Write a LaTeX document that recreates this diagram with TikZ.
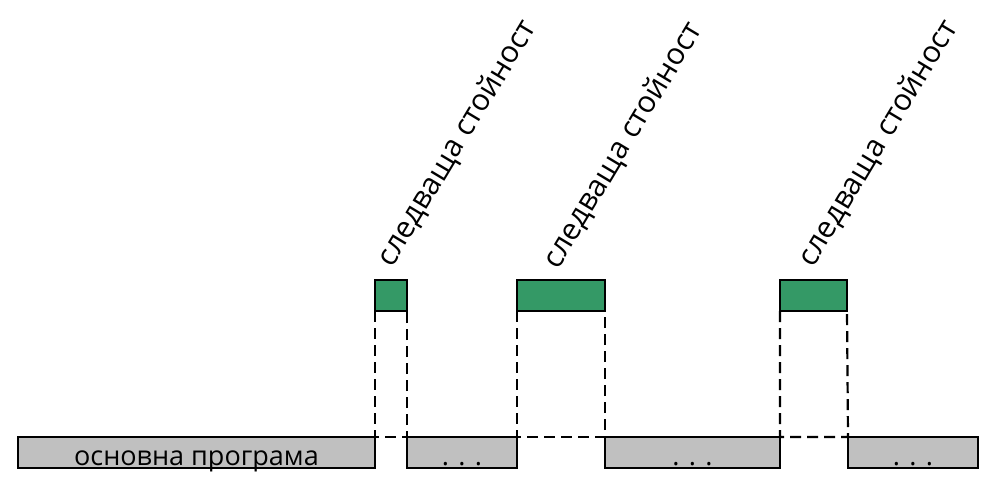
\documentclass[tikz,border=0pt]{standalone}
\usepackage{fontspec}
\setmainfont{Open Sans}
\usetikzlibrary{positioning}
\definecolor{isrgreen}{RGB}{52,153,102}
\definecolor{maingray}{RGB}{192,192,192}

\begin{document}
\begin{tikzpicture}[x=1pt,y=-1pt,
  mainbox/.style={draw,fill=maingray,line width=2.4pt,minimum height=31pt,
                  inner sep=0pt,outer sep=0pt,anchor=north west,
                  text height=26pt,text depth=1pt,
                  font=\fontsize{27}{30}\selectfont},
  isrbox/.style={draw,fill=isrgreen,line width=2.4pt,minimum height=31pt,
                 inner sep=0pt,outer sep=0pt,anchor=north west},
  isrlabel/.style={rotate=59,anchor=base west,inner sep=0pt,outer sep=0pt,
                   font=\fontsize{30}{33}\selectfont},
  link/.style={line width=2.2pt,dash pattern=on 11pt off 6pt}]
\useasboundingbox (0,0) rectangle (996,488);

% ---- main program ----
\node[mainbox,minimum width=357pt] (main) at (18,437) {основна програма};
\node[mainbox,minimum width=110pt] (cont1) at (407,437) {. . .};
\node[mainbox,minimum width=175pt] (cont2) at (605,437) {. . .};
\node[mainbox,minimum width=130pt] (cont3) at (848,437) {. . .};

% ---- interrupts ----
\node[isrbox,minimum width=32pt] (isr1) at (375,280) {};
\node[isrbox,minimum width=88pt] (isr2) at (517,280) {};
\node[isrbox,minimum width=67pt] (isr3) at (780,280) {};

\node[isrlabel] (lab1) at ([xshift=1pt,yshift=12pt]isr1.north) {следваща стойност};
\node[isrlabel] (lab2) at ([xshift=-3pt,yshift=10pt]isr2.north) {следваща стойност};
\node[isrlabel] (lab3) at ([xshift=0pt,yshift=12pt]isr3.north) {следваща стойност};

% ---- jumps ----
\draw[link] (isr1.south west) -- (main.north east) -- (cont1.north west) -- (isr1.south east);
\draw[link] (isr2.south west) -- (cont1.north east) -- (cont2.north west) -- (isr2.south east);
\draw[link] (isr3.south west) -- (cont2.north east) -- (cont3.north west) -- (isr3.south east);
\end{tikzpicture}
\end{document}
